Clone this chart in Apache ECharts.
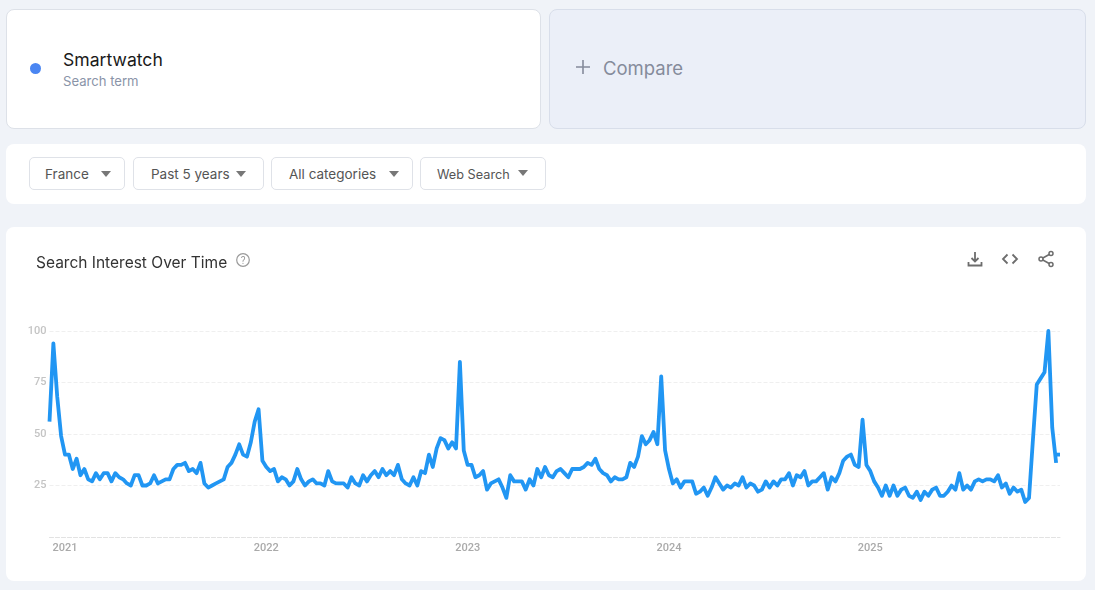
<!DOCTYPE html>
<html>
<head>
<meta charset="utf-8">
<title>Smartwatch</title>
<script src="https://cdn.jsdelivr.net/npm/echarts@6/dist/echarts.min.js"></script>
<style>
html, body { margin: 0; padding: 0; width: 1095px; height: 590px; overflow: hidden; background: #f0f3f8; font-family: Inter, Roboto, sans-serif; }
div { box-sizing: border-box; }
.card { position: absolute; background: #fff; border-radius: 8px; }
#term { left: 6px; top: 9px; width: 535px; height: 120px; border: 1px solid #dde1e8; }
#compare { left: 549px; top: 9px; width: 537px; height: 120px; background: #ebeff8; border: 1px solid #d8deea; }
#filters { left: 6px; top: 144px; width: 1080px; height: 60px; }
#panel { left: 6px; top: 227px; width: 1080px; height: 354px; }
#main { position: absolute; left: 0; top: 0; width: 1080px; height: 354px; }
.dot { position: absolute; left: 23px; top: 53px; width: 11px; height: 11px; border-radius: 50%; background: #4a86f2; }
.name { position: absolute; left: 56px; top: 39px; font-size: 17.6px; color: #1a1a1a; }
.sub { position: absolute; left: 56px; top: 63px; font-size: 13.100px; color: #8a94a8; }
.plus { position: absolute; left: 26px; top: 50px; width: 14px; height: 14px; }
.cmp { position: absolute; left: 53px; top: 46.500px; font-size: 18.500px; color: #858b9b; }
.btn { position: absolute; top: 13px; height: 33px; border: 1px solid #dfe2e8; border-radius: 5px; font-size: 13.500px; line-height: 33px; color: #555; padding-left: 16px; }
.btn i { position: absolute; top: 13px; width: 0; height: 0; border-left: 5px solid transparent; border-right: 5px solid transparent; border-top: 6px solid #777; }
.help { position: absolute; left: 229px; top: 25px; }
.icon { position: absolute; top: 23px; }
</style>
</head>
<body>
<div class="card" id="term">
  <div class="dot"></div>
  <div class="name">Smartwatch</div>
  <div class="sub">Search term</div>
</div>
<div class="card" id="compare">
  <svg class="plus" viewBox="0 0 14 14"><path d="M7 0v14M0 7h14" stroke="#858b9b" stroke-width="1.600" fill="none"/></svg>
  <div class="cmp">Compare</div>
</div>
<div class="card" id="filters">
  <div class="btn" style="left:23px;width:96px;padding-left:15px">France<i style="left:71px"></i></div>
  <div class="btn" style="left:127px;width:131px;padding-left:17px">Past 5 years<i style="left:102px"></i></div>
  <div class="btn" style="left:265px;width:142px;padding-left:17px">All categories<i style="left:117px"></i></div>
  <div class="btn" style="left:414px;width:126px;font-size:12.700px">Web Search<i style="left:97px;top:12px"></i></div>
</div>
<div class="card" id="panel">
  <div id="main"></div>
  <svg class="help" width="16" height="16" viewBox="0 0 16 16"><circle cx="8" cy="8" r="6.300" fill="none" stroke="#9a9a9a" stroke-width="1.200"/><text x="8" y="11.500" font-size="10" text-anchor="middle" fill="#9a9a9a" font-family="Roboto">?</text></svg>
  <svg class="icon" style="left:960px" width="18" height="18" viewBox="0 0 18 18"><path d="M9 2v9M5.500 8L9 11.500 12.500 8M2.500 12v3.500h13V12" fill="none" stroke="#6d6d6d" stroke-width="1.800"/></svg>
  <svg class="icon" style="left:995px" width="18" height="18" viewBox="0 0 18 18"><path d="M6.500 4.500L2 9l4.500 4.500M11.500 4.500L16 9l-4.500 4.500" fill="none" stroke="#6d6d6d" stroke-width="1.800"/></svg>
  <svg class="icon" style="left:1031px" width="18" height="18" viewBox="0 0 18 18"><path d="M14 3.500L4 9l10 5.500" fill="none" stroke="#6d6d6d" stroke-width="1.600"/><circle cx="14" cy="3.500" r="2" fill="#fff" stroke="#6d6d6d" stroke-width="1.500"/><circle cx="4" cy="9" r="2" fill="#fff" stroke="#6d6d6d" stroke-width="1.500"/><circle cx="14" cy="14.500" r="2" fill="#fff" stroke="#6d6d6d" stroke-width="1.500"/></svg>
</div>

<script>
// weekly values
var interest = [
  56, 94, 68, 49, 40, 40, 33, 38, 30, 33, 28, 27, 31, 28, 31, 31, 27, 31, 29, 28,
  26, 25, 30, 30, 25, 25, 26, 30, 26, 27, 28, 28, 33, 35, 35, 36, 32, 33, 31, 36,
  26, 24, 25, 26, 27, 28, 34, 36, 40, 45, 40, 39, 46, 56, 62, 37, 34, 32, 33, 27,
  29, 28, 25, 27, 33, 28, 25, 27, 28, 26, 26, 25, 32, 27, 26, 26, 26, 24, 29, 26,
  25, 30, 27, 30, 32, 29, 33, 30, 32, 30, 35, 28, 26, 25, 29, 25, 32, 31, 40, 34,
  43, 48, 47, 43, 46, 43, 85, 42, 35, 35, 29, 30, 32, 23, 26, 27, 28, 24, 19, 30,
  27, 27, 27, 23, 28, 25, 33, 29, 34, 30, 29, 32, 33, 31, 29, 33, 33, 33, 34, 36,
  35, 38, 33, 31, 30, 27, 29, 28, 28, 29, 36, 34, 39, 49, 45, 47, 51, 45, 78, 42,
  33, 26, 28, 24, 27, 27, 27, 21, 22, 24, 20, 24, 29, 26, 23, 25, 24, 26, 25, 29,
  24, 26, 25, 22, 23, 27, 24, 27, 25, 28, 28, 31, 25, 30, 29, 32, 25, 27, 27, 29,
  31, 23, 29, 27, 31, 37, 39, 40, 35, 34, 57, 35, 32, 27, 24, 20, 25, 20, 25, 20,
  23, 24, 20, 19, 22, 18, 22, 20, 23, 24, 20, 20, 22, 25, 23, 31, 23, 25, 23, 27,
  28, 27, 28, 28, 27, 30, 24, 26, 21, 24, 22, 23, 17, 19, 47, 74, 77, 80, 100, 53,
  36
];
// the last, incomplete week is a separate stub
var partialWeek = [40, 40];
var yearWeeks = [4, 56, 108, 160, 212];
var yearLabels = ['2021', '2022', '2023', '2024', '2025'];
var yTicks = [25, 50, 75, 100];

var weeks = [];
for (var i = 0; i < interest.length + 1; i++) {
    weeks.push(i);
}

var partialData = [];
for (var j = 0; j < interest.length - 1; j++) {
    partialData.push(null);
}
partialData = partialData.concat(partialWeek);

var myChart = echarts.init(document.getElementById('main'));

var option = {
    animation: false,
    title: {
        text: 'Search Interest Over Time',
        left: 25,
        top: 23,
        textStyle: { color: '#333', fontSize: 15.500, fontWeight: 'normal', fontFamily: 'Inter' }
    },
    grid: { left: 43.500, right: 26, top: 104, bottom: 44 },
    xAxis: {
        type: 'category',
        boundaryGap: false,
        data: weeks,
        axisLine: { lineStyle: { color: '#e2e2e2', type: 'dashed' } },
        axisTick: { show: false },
        axisLabel: {
            interval: 0,
            margin: 6,
            color: '#aaa',
            fontSize: 11,
            fontWeight: 500,
            fontFamily: 'Roboto',
            formatter: function (value, index) {
                var n = yearWeeks.indexOf(index);
                return n >= 0 ? yearLabels[n] : '';
            }
        }
    },
    yAxis: {
        type: 'value',
        min: 0,
        max: 100,
        interval: 25,
        axisLine: { show: false },
        axisTick: { show: false },
        splitLine: { lineStyle: { color: '#efefef', type: 'dashed' } },
        axisLabel: {
            margin: 3,
            color: '#c4c4c4',
            fontSize: 11,
            fontWeight: 500,
            fontFamily: 'Roboto',
            formatter: function (value) {
                return yTicks.indexOf(value) >= 0 ? value : '';
            }
        }
    },
    series: [
        {
            name: 'Smartwatch',
            type: 'line',
            data: interest,
            symbol: 'none',
            lineStyle: { color: '#2196f3', width: 3.800, join: 'round' }
        },
        {
            name: 'Smartwatch partial',
            type: 'line',
            data: partialData,
            symbol: 'none',
            lineStyle: { color: '#2196f3', width: 3.800 }
        }
    ]
};
myChart.setOption(option);
</script>
</body>
</html>
